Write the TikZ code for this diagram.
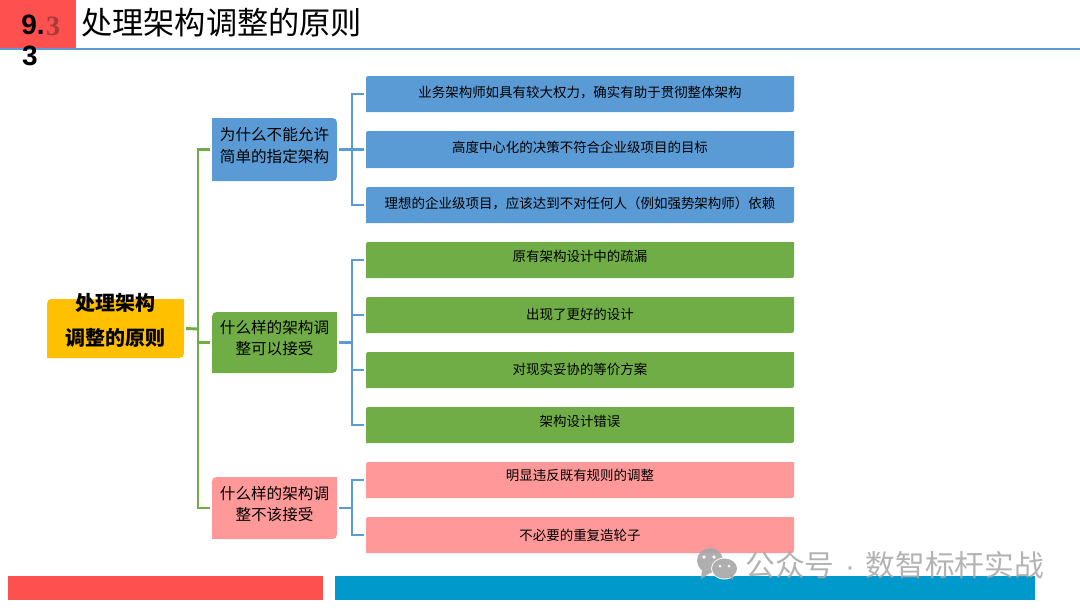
\documentclass[tikz,border=0pt]{standalone}
\usepackage{fontspec}
\setmainfont{Noto Sans CJK SC}
\newfontfamily\numfont{Liberation Sans}
\newfontfamily\ghostfont{Liberation Serif}
\definecolor{cblue}{HTML}{5B9BD5}
\definecolor{cgreen}{HTML}{70AD47}
\definecolor{cpink}{HTML}{FF9999}
\definecolor{cgold}{HTML}{FFC000}
\definecolor{cred}{HTML}{FF5050}
\definecolor{cbar}{HTML}{0099CC}
\definecolor{cmark}{HTML}{A6A6A6}
\definecolor{cghost}{HTML}{A83A3A}
\newcommand\twolines[3]{\vbox{\baselineskip=#1\lineskiplimit=-100pt\halign{\hfil##\hfil\cr #2\cr #3\cr}}}
% name x0 y0 x1 y1 colour dy content
\newcommand\bx[8]{%
  \fill[#6] (#2,#5) -- ({#2},{#3+5}) .. controls (#2,#3) .. ({#2+5},#3) -- (#4,#3) -- (#4,{#5-5}) .. controls (#4,#5) .. ({#4-5},#5) -- cycle;
  \node[boxnode,leaf,minimum width={(#4-#2)*0.75pt},minimum height={(#5-#3)*0.75pt}] (#1) at ({(#2+#4)/2},{(#3+#5)/2}) {\raisebox{#7}[0pt][0pt]{#8}};
}
\tikzset{
  boxnode/.style={rectangle,inner sep=0pt,outer sep=1.5pt},
  leaf/.style={font=\fontsize{10.1}{12}\selectfont},
  midbox/.style={font=\fontsize{11.7}{14}\selectfont,minimum width=93.75pt},
  conblue/.style={draw=cblue,line width=2.2pt},
  congreen/.style={draw=cgreen,line width=2.2pt},
}
\begin{document}
\begin{tikzpicture}[x=0.75pt,y=-0.75pt]
\useasboundingbox (0,0) rectangle (1080,608);
% header
\fill[cred] (0,0) rectangle (76,48);
\draw[cblue,line width=2.2pt] (0,49) -- (1080,49);
\node[anchor=center,text=cghost,font=\ghostfont\fontsize{21}{24}\bfseries\selectfont] (ghost) at (53,26) {3};
\node[anchor=center,font=\numfont\fontsize{21}{24}\bfseries\selectfont] (num) at (33,25) {9.};
\node[anchor=center,font=\numfont\fontsize{21}{24}\bfseries\selectfont] (numb) at (30,56) {3};
\node[anchor=west,inner sep=0pt,font=\fontsize{23.4}{28}\selectfont] (title) at (81,23) {处理架构调整的原则};
% bars
\fill[cred] (8,576) rectangle (323,600);
\fill[cbar] (335,576) rectangle (1035,600);
% boxes
\fill[cgold] (47,358) -- (47,309) .. controls (47,299) .. (57,299) -- (184,299) -- (184,348) .. controls (184,358) .. (174,358) -- cycle;
\node[boxnode,minimum width=102.75pt,minimum height=44.25pt,font=\fontsize{15}{18}\bfseries\selectfont] (root) at (115.5,328.5)
  {\raisebox{-12.75pt}[0pt][0pt]{\twolines{26pt}{处理架构}{调整的原则}}};
\fill[cblue] (212,181) -- (212,118) -- (327,118) .. controls (337,118) .. (337,128) -- (337,171) .. controls (337,181) .. (327,181) -- cycle;
\node[boxnode,midbox,minimum height=47pt] (a) at (274.5,149.5)
  {\raisebox{-9.6pt}[0pt][0pt]{\twolines{16.5pt}{为什么不能允许}{简单的指定架构}}};
\fill[cgreen] (212,373) -- (212,322) .. controls (212,312) .. (222,312) -- (337,312) -- (337,363) .. controls (337,373) .. (327,373) -- cycle;
\node[boxnode,midbox,minimum height=45pt] (b) at (274.5,342.5)
  {\raisebox{-9.2pt}[0pt][0pt]{\twolines{16pt}{什么样的架构调}{整可以接受}}};
\fill[cpink] (212,539) -- (212,487) .. controls (212,477) .. (222,477) -- (337,477) -- (337,529) .. controls (337,539) .. (327,539) -- cycle;
\node[boxnode,midbox,minimum height=46pt] (c) at (274.5,508)
  {\raisebox{-9.5pt}[0pt][0pt]{\twolines{16pt}{什么样的架构调}{整不该接受}}};
% leaves
\bx{a1}{366}{76}{794}{112}{cblue}{-2.25pt}{业务架构师如具有较大权力，确实有助于贯彻整体架构}
\bx{a2}{366}{131}{794}{168}{cblue}{-2.6pt}{高度中心化的决策不符合企业级项目的目标}
\bx{a3}{366}{187}{794}{223}{cblue}{-2.25pt}{理想的企业级项目，应该达到不对任何人（例如强势架构师）依赖}
\bx{b1}{366}{242}{794}{278}{cgreen}{-0.75pt}{原有架构设计中的疏漏}
\bx{b2}{366}{297}{794}{333}{cgreen}{-3pt}{出现了更好的设计}
\bx{b3}{366}{352}{794}{388}{cgreen}{-3pt}{对现实妥协的等价方案}
\bx{b4}{366}{407}{794}{443}{cgreen}{-0.75pt}{架构设计错误}
\bx{c1}{366}{462}{794}{498}{cpink}{0pt}{明显违反既有规则的调整}
\bx{c2}{366}{517}{794}{553}{cpink}{-3.75pt}{不必要的重复造轮子}
% connectors: trunk x positions
\coordinate (tg) at (198,329);
\coordinate (tb) at (352,149);
\draw[congreen] (root.east) -- (tg);
\draw[congreen] (tg) |- (a.west);
\draw[congreen] (tg) |- (b.west);
\draw[congreen] (tg) |- (c.west);
\foreach \src/\dst in {a/a1,a/a2,a/a3,b/b1,b/b2,b/b3,b/b4,c/c1,c/c2}{
  \draw[conblue] (\src.east) -- (\src.east -| tb) |- (\dst.west);
}
% watermark
\begin{scope}[opacity=.9]
\fill[cmark] (710,560.5) ellipse [x radius=13,y radius=12.5];
\fill[cmark] (702,570) -- (701,579) -- (710,573) -- cycle;
\fill[white] (724.5,568.5) ellipse [x radius=13.5,y radius=11];
\fill[cmark] (724.5,568.5) ellipse [x radius=12.5,y radius=10];
\fill[cmark] (729,575) -- (733,580) -- (733,574) -- cycle;
\fill[white] (704,557) circle [radius=1.8];
\fill[white] (714,557) circle [radius=1.8];
\fill[white] (720,566) circle [radius=1.5];
\fill[white] (729,566) circle [radius=1.5];
\end{scope}
\node[anchor=west,inner sep=0pt,text=cmark,text opacity=.85,font=\fontsize{22.3}{26}\selectfont] (mark) at (745,565) {公众号\hspace{8pt}{\numfont·}\hspace{8pt}数智标杆实战};
\end{tikzpicture}
\end{document}
